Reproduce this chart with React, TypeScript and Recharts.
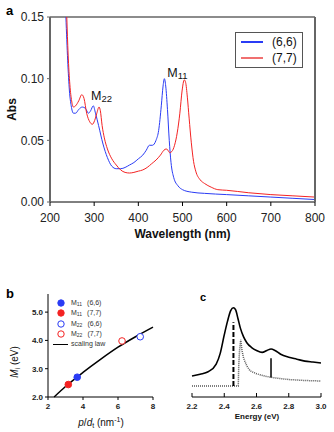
import React from "react";
import {
  LineChart,
  Line,
  XAxis,
  YAxis,
  ReferenceLine,
  ReferenceDot,
  Legend,
  ComposedChart,
  Scatter,
} from "recharts";

const FONT = "'Liberation Sans', Arial, Helvetica, sans-serif";

// ---- panel a: absorption spectra ----
const nm66 = [236, 240, 244, 248, 253, 258, 265, 273, 280, 287, 292, 298, 303, 310, 320, 330, 340, 350, 360, 370, 380, 390, 400, 410, 418, 425, 432, 440, 446, 452, 456, 459, 462, 466, 470, 474, 480, 490, 500, 520, 550, 600, 650, 700, 750, 800];
const abs66 = [0.15, 0.115, 0.09, 0.078, 0.072, 0.072, 0.075, 0.077, 0.076, 0.072, 0.074, 0.078, 0.072, 0.062, 0.047, 0.036, 0.029, 0.027, 0.027, 0.028, 0.03, 0.032, 0.035, 0.038, 0.042, 0.046, 0.046, 0.05, 0.058, 0.078, 0.094, 0.1, 0.094, 0.075, 0.05, 0.032, 0.02, 0.013, 0.01, 0.008, 0.007, 0.006, 0.005, 0.004, 0.003, 0.002];
const nm77 = [238, 241, 245, 249, 253, 258, 265, 272, 277, 283, 290, 296, 301, 306, 311, 314, 318, 323, 330, 340, 350, 360, 370, 380, 390, 400, 410, 420, 430, 440, 450, 458, 463, 467, 471, 476, 482, 488, 494, 499, 504, 507, 511, 515, 520, 525, 530, 540, 550, 565, 580, 600, 650, 700, 750, 800];
const abs77 = [0.15, 0.12, 0.095, 0.082, 0.077, 0.078, 0.082, 0.087, 0.084, 0.072, 0.065, 0.063, 0.066, 0.072, 0.077, 0.074, 0.062, 0.052, 0.043, 0.035, 0.03, 0.026, 0.024, 0.0235, 0.024, 0.025, 0.026, 0.028, 0.031, 0.034, 0.038, 0.042, 0.043, 0.042, 0.04, 0.041, 0.046, 0.056, 0.072, 0.09, 0.099, 0.097, 0.085, 0.068, 0.048, 0.033, 0.025, 0.018, 0.015, 0.012, 0.01, 0.0095, 0.0075, 0.006, 0.005, 0.004];
const spectraNames = ["(6,6)", "(7,7)"];
const wavelengthTicks = [200, 300, 400, 500, 600, 700, 800];
const absTicks = [0, 0.05, 0.1, 0.15];

// ---- panel b: transition energies vs p/dt ----
const transitionSubs = ["11", "11", "22", "22"];
const tubeNames = ["(6,6)", "(7,7)", "(6,6)", "(7,7)"];
const pointRatio = [3.67, 3.16, 7.27, 6.23];
const pointEnergy = [2.7, 2.44, 4.13, 3.98];
const scalingRatio = [2.35, 3, 4, 5, 6, 7, 8];
const scalingEnergy = [2.0, 2.37, 2.87, 3.33, 3.76, 4.13, 4.47];
const ratioTicks = [2, 4, 6, 8];
const energyTicksB = [2, 3, 4, 5];

// ---- panel c: lineshape ----
const energyC = [2.2, 2.25, 2.3, 2.35, 2.375, 2.4, 2.42, 2.44, 2.457, 2.47, 2.485, 2.5, 2.52, 2.54, 2.57, 2.6, 2.635, 2.665, 2.69, 2.715, 2.75, 2.8, 2.85, 2.9, 2.95, 3.0];
const solidC = [0.216, 0.235, 0.26, 0.34, 0.45, 0.64, 0.78, 0.89, 0.92, 0.9, 0.81, 0.71, 0.62, 0.56, 0.51, 0.48, 0.46, 0.48, 0.495, 0.48, 0.44, 0.41, 0.39, 0.37, 0.36, 0.35];
const energyDot = [2.2, 2.3, 2.4, 2.487, 2.49, 2.495, 2.502, 2.51, 2.52, 2.54, 2.56, 2.6, 2.65, 2.7, 2.8, 2.9, 3.0];
const dottedC = [0.113, 0.113, 0.113, 0.113, 0.33, 0.48, 0.59, 0.48, 0.4, 0.32, 0.27, 0.24, 0.216, 0.2, 0.18, 0.17, 0.165];
const energyTicksC = [2.2, 2.4, 2.6, 2.8, 3.0];
const dashedMark = { e: 2.457, from: 0.113, to: 0.77 };
const solidMark = { e: 2.69, from: 0.2, to: 0.4 };

const spectrum66 = nm66.map((nm, i) => ({ nm, abs: abs66[i] }));
const spectrum77 = nm77.map((nm, i) => ({ nm, abs: abs77[i] }));
const scalingData = scalingRatio.map((x, i) => ({ x, y: scalingEnergy[i] }));
const solidData = energyC.map((e, i) => ({ e, v: solidC[i] }));
const dottedData = energyDot.map((e, i) => ({ e, v: dottedC[i] }));

const BLUE = "#2a3cf5";
const RED = "#f42323";
const pointColors = [BLUE, RED, BLUE, RED];
const pointFilled = [true, true, false, false];
const spectraColors = [BLUE, "#f07070"];

const panelLetter = (text: string, left: number, top: number, size: number) => (
  <div
    style={{
      position: "absolute",
      left,
      top,
      fontFamily: FONT,
      fontWeight: "bold",
      fontSize: size,
      lineHeight: 1,
    }}
  >
    {text}
  </div>
);

const peakLabel = (sub: string) => (props: any) => {
  const { viewBox } = props;
  return (
    <text x={viewBox.x} y={viewBox.y} fontFamily={FONT} fontSize={12.5} fill="#111">
      M
      <tspan fontSize={9.5} dy={2}>
        {sub}
      </tspan>
    </text>
  );
};

const SpectraLegend = () => (
  <div
    style={{
      position: "relative",
      width: 68,
      height: 36,
      border: "1px solid #555",
      boxSizing: "border-box",
      fontFamily: FONT,
      fontSize: 12,
      color: "#111",
    }}
  >
    {spectraNames.map((name, i) => (
      <div key={name} style={{ position: "absolute", left: 0, top: 1 + i * 16, height: 16, width: 66 }}>
        <div
          style={{
            position: "absolute",
            left: 5,
            top: 7,
            width: 22,
            height: 1.5,
            background: spectraColors[i],
          }}
        />
        <div style={{ position: "absolute", left: 36, top: 0, lineHeight: "16px" }}>{name}</div>
      </div>
    ))}
  </div>
);

const PointsLegend = () => (
  <div style={{ position: "relative", width: 66, height: 56, fontFamily: FONT, fontSize: 7, color: "#333" }}>
    {tubeNames.map((tube, i) => (
      <div key={i} style={{ position: "absolute", left: 0, top: 4 + i * 10.3, height: 10, width: 66 }}>
        <svg width={12} height={10} style={{ position: "absolute", left: 7, top: 0 }}>
          <circle
            cx={6}
            cy={5}
            r={3.2}
            fill={pointFilled[i] ? pointColors[i] : "none"}
            stroke={pointColors[i]}
            strokeWidth={1}
          />
        </svg>
        <div style={{ position: "absolute", left: 23, top: 0, lineHeight: "10px", whiteSpace: "nowrap" }}>
          M<sub style={{ fontSize: 5, verticalAlign: "-1px" }}>{transitionSubs[i]}</sub>
          <span style={{ marginLeft: 5 }}>{tube}</span>
        </div>
      </div>
    ))}
    <div style={{ position: "absolute", left: 0, top: 45, height: 10, width: 66 }}>
      <div style={{ position: "absolute", left: 5, top: 5, width: 15, height: 1.2, background: "#000" }} />
      <div style={{ position: "absolute", left: 23, top: 0, lineHeight: "10px" }}>scaling law</div>
    </div>
  </div>
);

const ScatterDot = (filled: boolean, color: string) => (props: any) => (
  <circle
    cx={props.cx}
    cy={props.cy}
    r={3.3}
    fill={filled ? color : "#fff"}
    stroke={color}
    strokeWidth={1}
  />
);

export default function App() {
  return (
    <div
      style={{
        position: "absolute",
        left: 0,
        top: 0,
        width: 334,
        height: 432,
        background: "#fff",
        overflow: "hidden",
      }}
    >
      {/* panel a */}
      <div style={{ position: "absolute", left: 0, top: 0 }}>
        <LineChart width={334} height={245} margin={{ top: 17, right: 9, left: 8, bottom: 0 }}>
          <XAxis
            type="number"
            dataKey="nm"
            domain={[200, 800]}
            ticks={wavelengthTicks}
            allowDuplicatedCategory={false}
            height={43}
            stroke="#000"
            tickSize={4}
            tickMargin={7}
            tick={{ fill: "#222", fontSize: 12, fontFamily: FONT }}
            label={{
              value: "Wavelength (nm)",
              position: "insideBottom",
              offset: 7,
              style: { fontFamily: FONT, fontWeight: "bold", fontSize: 12, fill: "#111" },
            }}
          />
          <YAxis
            yAxisId="left"
            domain={[0, 0.15]}
            ticks={absTicks}
            width={42}
            stroke="#666"
            axisLine={{ stroke: "#666", strokeWidth: 2 }}
            tickSize={3}
            tickMargin={3}
            tickFormatter={(v: number) => v.toFixed(2)}
            tick={{ fill: "#222", fontSize: 12, fontFamily: FONT }}
            label={{
              content: (p: any) => (
                <text
                  x={16}
                  y={p.viewBox.y + p.viewBox.height / 2}
                  transform={`rotate(-90, 16, ${p.viewBox.y + p.viewBox.height / 2})`}
                  textAnchor="middle"
                  fontFamily={FONT}
                  fontWeight="bold"
                  fontSize={12}
                  fill="#111"
                >
                  Abs
                </text>
              ),
            }}
          />
          <YAxis
            yAxisId="right"
            orientation="right"
            domain={[0, 0.15]}
            ticks={absTicks}
            width={10}
            stroke="#666"
            axisLine={{ stroke: "#666", strokeWidth: 2 }}
            tickSize={3}
            tick={false}
          />
          <ReferenceLine yAxisId="left" y={0.15} stroke="#666" strokeWidth={1.5} />
          <Line
            yAxisId="left"
            data={spectrum66}
            dataKey="abs"
            name={spectraNames[0]}
            type="monotone"
            stroke={BLUE}
            strokeWidth={1}
            dot={false}
            isAnimationActive={false}
          />
          <Line
            yAxisId="left"
            data={spectrum77}
            dataKey="abs"
            name={spectraNames[1]}
            type="monotone"
            stroke={RED}
            strokeWidth={1}
            dot={false}
            isAnimationActive={false}
          />
          <ReferenceDot yAxisId="left" x={293} y={0.0827} r={0} label={{ content: peakLabel("22") }} />
          <ReferenceDot yAxisId="left" x={465.6} y={0.1014} r={0} label={{ content: peakLabel("11") }} />
          <Legend
            layout="vertical"
            align="center"
            verticalAlign="middle"
            content={() => <SpectraLegend />}
            wrapperStyle={{ left: 235, top: 32, width: 68, height: 36 }}
          />
        </LineChart>
      </div>

      {/* panel b */}
      <div style={{ position: "absolute", left: 0, top: 280 }}>
        <ComposedChart width={170} height={152} margin={{ top: 14, right: 17, left: 8, bottom: 5 }}>
          <XAxis
            type="number"
            dataKey="x"
            domain={[2, 8]}
            ticks={ratioTicks}
            height={30}
            stroke="#000"
            tickSize={3}
            tickMargin={3}
            tick={{ fill: "#222", fontSize: 8, fontWeight: "bold", fontFamily: FONT }}
            label={{
              content: () => (
                <text x={101} y={146} textAnchor="middle" fontFamily={FONT} fontSize={10} fill="#111">
                  <tspan fontStyle="italic">p</tspan>/<tspan fontStyle="italic">d</tspan>
                  <tspan fontSize={7} dy={2}>t</tspan>
                  <tspan dy={-2}> (nm</tspan>
                  <tspan fontSize={7} dy={-4}>-1</tspan>
                  <tspan dy={4}>)</tspan>
                </text>
              ),
            }}
          />
          <YAxis
            type="number"
            domain={[2, 5.64]}
            ticks={energyTicksB}
            width={40}
            stroke="#000"
            tickSize={3}
            tickMargin={2}
            tickFormatter={(v: number) => v.toFixed(1)}
            tick={{ fill: "#222", fontSize: 8, fontWeight: "bold", fontFamily: FONT }}
            label={{
              content: () => (
                <text
                  x={18}
                  y={82}
                  transform="rotate(-90, 18, 82)"
                  textAnchor="middle"
                  fontFamily={FONT}
                  fontSize={10}
                  fill="#111"
                >
                  <tspan fontStyle="italic">M</tspan>
                  <tspan fontSize={7} dy={2}>i</tspan>
                  <tspan dy={-2}> (eV)</tspan>
                </text>
              ),
            }}
          />
          <Line
            data={scalingData}
            dataKey="y"
            type="monotone"
            stroke="#000"
            strokeWidth={1.5}
            dot={false}
            isAnimationActive={false}
          />
          {pointRatio.map((x, i) => (
            <Scatter
              key={i}
              data={[{ x, y: pointEnergy[i] }]}
              dataKey="y"
              shape={ScatterDot(pointFilled[i], pointColors[i])}
              isAnimationActive={false}
            />
          ))}
          <Legend
            layout="vertical"
            align="center"
            verticalAlign="middle"
            content={() => <PointsLegend />}
            wrapperStyle={{ left: 48, top: 14, width: 66, height: 56 }}
          />
        </ComposedChart>
      </div>

      {/* panel c */}
      <div style={{ position: "absolute", left: 170, top: 280 }}>
        <ComposedChart width={164} height={152} margin={{ top: 20, right: 13, left: 22, bottom: 5 }}>
          <XAxis
            type="number"
            dataKey="e"
            domain={[2.2, 3.0]}
            ticks={energyTicksC}
            height={30}
            stroke="#000"
            tickSize={-4}
            tickMargin={10}
            tickFormatter={(v: number) => v.toFixed(1)}
            tick={{ fill: "#222", fontSize: 8, fontWeight: "bold", fontFamily: FONT }}
            label={{
              content: () => (
                <text x={87} y={139} textAnchor="middle" fontFamily={FONT} fontSize={8} fontWeight="bold" fill="#111">
                  Energy (eV)
                </text>
              ),
            }}
          />
          <YAxis hide domain={[0, 1]} />
          <Line
            data={dottedData}
            dataKey="v"
            type="linear"
            stroke="#555"
            strokeWidth={1.5}
            strokeDasharray="1 1"
            dot={false}
            isAnimationActive={false}
          />
          <Line
            data={solidData}
            dataKey="v"
            type="monotone"
            stroke="#000"
            strokeWidth={1.6}
            dot={false}
            isAnimationActive={false}
          />
          <ReferenceLine
            segment={[
              { x: dashedMark.e, y: dashedMark.from },
              { x: dashedMark.e, y: dashedMark.to },
            ]}
            stroke="#000"
            strokeWidth={2}
            strokeDasharray="5 2"
          />
          <ReferenceLine
            segment={[
              { x: solidMark.e, y: solidMark.from },
              { x: solidMark.e, y: solidMark.to },
            ]}
            stroke="#000"
            strokeWidth={1.5}
          />
        </ComposedChart>
      </div>

      {panelLetter("a", 6, 4, 13)}
      {panelLetter("b", 6, 287, 13)}
      {panelLetter("c", 200, 292, 11)}
    </div>
  );
}
